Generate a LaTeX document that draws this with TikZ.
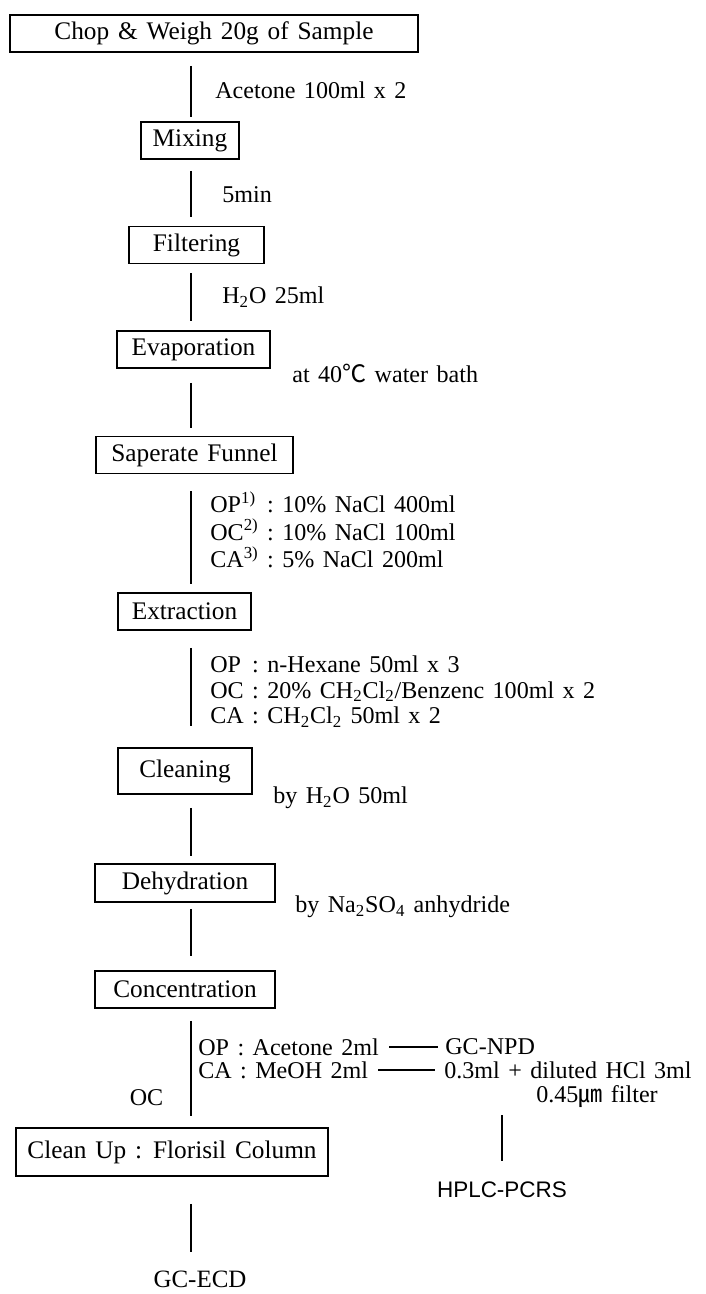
\documentclass[tikz,border=0pt]{standalone}
\usepackage{fontspec}
\setmainfont[WordSpace=1.4]{Liberation Serif}
\newfontfamily\hplcfont{Liberation Sans}
\newfontfamily\cjk{Noto Sans CJK KR}
\usetikzlibrary{calc}
\tikzset{
  stepbox/.style={draw, line width=0.85pt, inner sep=0pt, minimum height=0.74cm,
    font=\fontsize{14.4}{16}\selectfont},
  note/.style={anchor=west, inner sep=0pt, align=left,
    font=\fontsize{13.7}{15}\selectfont},
  flow/.style={line width=1.4pt},
  tie/.style={line width=0.9pt},
  gap/.style 2 args={shorten <=#1cm, shorten >=#2cm},
}

\begin{document}
\begin{tikzpicture}

  \useasboundingbox (0,0) rectangle (14.12,-25.88);
  \coordinate (spine) at (3.82,0);

  % --- Steps ----------------------------------------------------------
  \node[stepbox, minimum width=8.16cm] (chop)   at (4.28,-0.67)  {Chop \& Weigh 20g of Sample};
  \node[stepbox, minimum width=1.96cm] (mix)    at (3.80,-2.81)  {Mixing};
  \node[stepbox, minimum width=2.70cm] (filt)   at (3.93,-4.90)  {Filtering};
  \node[stepbox, minimum width=3.06cm] (evap)   at (3.87,-6.99)  {Evaporation};
  \node[stepbox, minimum width=3.94cm] (funnel) at (3.89,-9.10)  {Saperate Funnel};
  \node[stepbox, minimum width=2.66cm] (extr)   at (3.69,-12.23) {Extraction};
  \node[stepbox, minimum width=2.68cm, minimum height=0.92cm] (clean) at (3.70,-15.42) {Cleaning};
  \node[stepbox, minimum width=3.60cm, minimum height=0.76cm] (dehyd) at (3.70,-17.66) {Dehydration};
  \node[stepbox, minimum width=3.60cm] (conc)   at (3.70,-19.79) {Concentration};
  \node[stepbox, minimum width=6.24cm, minimum height=0.96cm] (flor) at (3.44,-23.04) {Clean Up : Florisil Column};

  % --- Conditions beside the spine -------------------------------------
  \node[note] (acet)  at (4.30,-1.80)  {Acetone 100ml x 2};
  \node[note] (wait)  at (4.44,-3.90)  {5min};
  \node[note] (water) at (4.44,-5.94)  {H\textsubscript{2}O 25ml};
  \node[note] (bath)  at (5.84,-7.46)  {at 40{\cjk ℃} water bath};
  \node[note, font=\fontsize{13.7}{12.8}\selectfont] (salt) at (4.20,-10.66) {%
    \begin{tabular}{@{}l@{\ :\ }l@{}}
      OP\textsuperscript{1)} & 10\% NaCl 400ml \\
      OC\textsuperscript{2)} & 10\% NaCl 100ml \\
      CA\textsuperscript{3)} & 5\% NaCl 200ml
    \end{tabular}};
  \node[note, font=\fontsize{13.7}{14.5}\selectfont] (solv) at (4.20,-13.86) {%
    \begin{tabular}{@{}l@{\ :\ }l@{}}
      OP & n-Hexane 50ml x 3 \\
      OC & 20\% CH\textsubscript{2}Cl\textsubscript{2}/Benzenc 100ml x 2 \\
      CA & CH\textsubscript{2}Cl\textsubscript{2} 50ml x 2
    \end{tabular}};
  \node[note] (rinse) at (5.46,-15.96) {by H\textsubscript{2}O 50ml};
  \node[note] (dry)   at (5.90,-18.14) {by Na\textsubscript{2}SO\textsubscript{4} anhydride};

  % final solvents and detectors
  \node[note] (opac)   at (3.96,-20.94) {OP : Acetone 2ml};
  \node[note] (gcnpd)  at (8.90,-20.94) {GC-NPD};
  \node[note] (came)   at (3.96,-21.40) {CA : MeOH 2ml};
  \node[note] (hcl)    at (8.88,-21.40) {0.3ml + diluted HCl 3ml};
  \node[note, anchor=center] (filter) at (11.94,-21.94) {0.45{\cjk ㎛} filter};
  \node[note, anchor=center] (oc)     at (2.93,-21.96)  {OC};
  \node[note, anchor=center, font=\hplcfont\fontsize{12.8}{14}\selectfont] (hplc) at (10.04,-23.80) {HPLC-PCRS};
  \node[note, anchor=center, font=\fontsize{14.2}{16}\selectfont] (gcecd) at (4.00,-25.58) {GC-ECD};

  % --- Spine ------------------------------------------------------------
  \draw[flow, gap={0.26}{0.08}] (chop.south -| spine)   -- (mix.north -| spine);
  \draw[flow, gap={0.22}{0.18}] (mix.south -| spine)    -- (filt.north -| spine);
  \draw[flow, gap={0.18}{0.18}] (filt.south -| spine)   -- (evap.north -| spine);
  \draw[flow, gap={0.28}{0.16}] (evap.south -| spine)   -- (funnel.north -| spine);
  \draw[flow, gap={0.34}{0.16}] (funnel.south -| spine) -- (extr.north -| spine);
  \draw[flow, gap={0.34}{0.42}] (extr.south -| spine)   -- (clean.north -| spine);
  \draw[flow, gap={0.26}{0.14}] (clean.south -| spine)  -- (dehyd.north -| spine);
  \draw[flow, gap={0.12}{0.28}] (dehyd.south -| spine)  -- (conc.north -| spine);
  \draw[flow, gap={0.24}{0.22}] (conc.south -| spine)   -- (flor.north -| spine);
  \draw[flow, gap={0.54}{0.36}] (flor.south -| spine)   -- (gcecd.north -| spine);

  % side branch to HPLC
  \draw[tie, gap={0.20}{0.14}] (opac.east) -- (gcnpd.west);
  \draw[tie, gap={0.20}{0.18}] (came.east) -- (hcl.west);
  \draw[flow, gap={0.14}{0.42}] (filter.south -| hplc.north) -- (hplc.north);

\end{tikzpicture}
\end{document}
